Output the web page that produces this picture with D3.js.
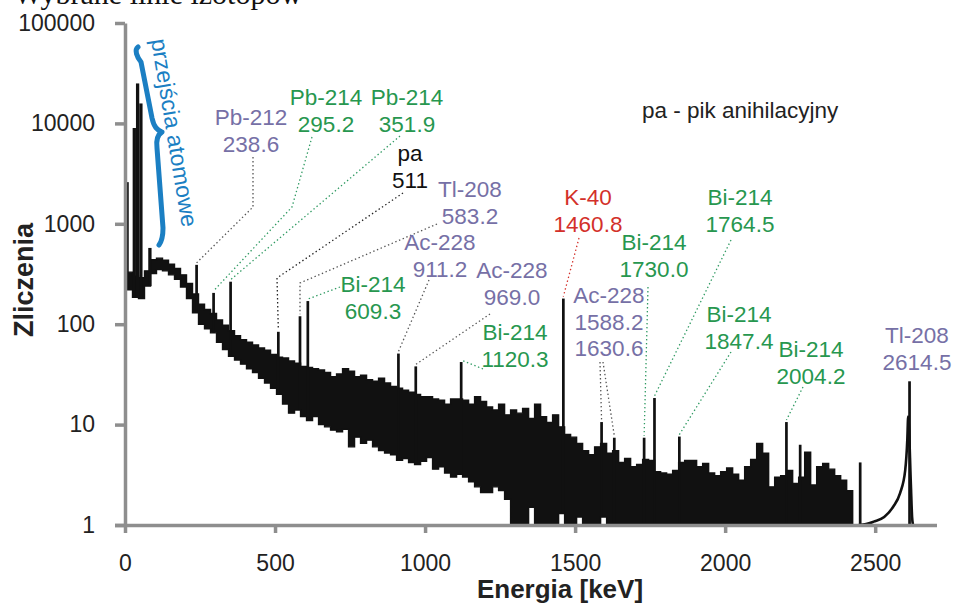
<!DOCTYPE html>
<html>
<head>
<meta charset="utf-8">
<script src="https://cdn.jsdelivr.net/npm/d3@7"></script>
<style>
  html, body { margin: 0; padding: 0; background: #fff; }
  svg { display: block; font-family: "Liberation Sans", Arial, Helvetica, sans-serif; }
</style>
</head>
<body>
<svg id="chart" width="953" height="604"></svg>
<script>
// ---- Spectrum: 20 keV bins from 5 keV, upper / lower counts within each bin ----
const binStart = 5;
const binWidth = 20;
const countsHigh = [
  330, 300, 290, 340, 440, 455, 435, 395, 360, 310,
  255, 200, 158, 140, 128, 110, 98, 86, 77, 70,
  66, 62, 58, 55, 50, 47, 46, 43, 41, 38,
  37, 36, 35, 33, 30, 32, 36, 34, 30, 31,
  28, 27, 29, 26, 24, 23, 22, 21, 20, 19,
  19, 18, 17.5, 16, 18, 18, 17.5, 16, 19, 17,
  15, 14, 16, 12.5, 14, 13, 14.5, 11.5, 16, 12,
  10.5, 12.5, 9.5, 8, 7.5, 6.5, 5.5, 5, 6, 6.5,
  5.2, 5.5, 4.2, 4.6, 3.8, 4, 4.5, 4.4, 3.4, 3.3,
  3.2, 3.5, 4.2, 4.4, 4.4, 3.8, 4.1, 3.3, 3.1, 3.4,
  3.7, 3.2, 2.8, 3.8, 4.5, 6.5, 5.2, 2.4, 3, 3.1,
  3.5, 2.6, 3, 5.3, 2.5, 3.8, 4.1, 3.6, 3.1, 2.8,
  2.2, 1
];
const countsLow = [
  220, 185, 180, 240, 320, 350, 340, 310, 280, 235,
  180, 130, 100, 90, 82, 66, 56, 48, 44, 40,
  36, 33, 29, 26, 23, 20, 16, 13, 14, 12,
  11, 12, 10, 9.5, 8.8, 8.5, 9, 6, 7.5, 6.5,
  7, 6, 5.5, 5.2, 5, 4.4, 4.6, 4.2, 4, 4.3,
  4.7, 3.6, 3.8, 3.3, 3, 3.2, 3, 2.7, 2.4, 2.1,
  2.1, 2.4, 2.2, 1.8, 1, 1, 1, 1.5, 1, 1,
  1, 1, 1.3, 1, 1, 1.2, 1, 1, 1, 1.2,
  1, 1, 1, 1, 1, 1, 1, 1, 1, 1,
  1, 1, 1, 1, 1, 1, 1, 1, 1, 1,
  1, 1, 1, 1, 1, 1, 1, 1, 1, 1,
  1, 1, 1, 1, 1, 1, 1, 1, 1, 1,
  1, 1
];

// ---- Peaks (energy in keV, counts at the top) ----
const peakEnergy = [7, 31, 42, 53, 83, 238.6, 295.2, 351.9, 511, 583.2, 609.3,
  911.2, 969.0, 1120.3, 1460.8, 1588.2, 1630.6, 1730.0, 1764.5, 1847.4,
  2204.2, 2250, 2450, 2614.5];
const peakCounts = [2600, 9000, 25000, 15800, 575, 390, 205, 265, 84, 120, 170,
  51, 38, 42, 180, 10.6, 7.4, 7.4, 18.4, 7.6,
  10.6, 6.3, 4.2, 27];

// ---- Tl-208 tail below 2614.5 keV ----
const tailEnergy = [2445, 2470, 2495, 2530, 2560, 2583, 2600, 2607, 2610, 2619, 2623, 2626];
const tailCounts = [1, 1.02, 1.08, 1.2, 1.52, 2.08, 3.5, 7, 12, 2.5, 1.2, 1];

// ---- Axis ticks ----
const xTicks = [0, 500, 1000, 1500, 2000, 2500];
const yTicks = [1, 10, 100, 1000, 10000, 100000];

// ---- Peak labels ----
const labelText = [
  ["Pb-212", "238.6"], ["Pb-214", "295.2"], ["Pb-214", "351.9"], ["pa", "511"],
  ["Tl-208", "583.2"], ["Bi-214", "609.3"], ["Ac-228", "911.2"], ["Ac-228", "969.0"],
  ["Bi-214", "1120.3"], ["K-40", "1460.8"], ["Ac-228", "1588.2", "1630.6"],
  ["Bi-214", "1730.0"], ["Bi-214", "1764.5"], ["Bi-214", "1847.4"],
  ["Bi-214", "2004.2"], ["Tl-208", "2614.5"]
];
const labelTargets = [[238.6], [295.2], [351.9], [511], [583.2], [609.3], [911.2], [969.0],
  [1120.3], [1460.8], [1588.2, 1630.6], [1730.0], [1764.5], [1847.4], [2204.2], []];
const labelSeries = ["Th", "U", "U", "pa", "Th", "U", "Th", "Th", "U", "K", "Th", "U", "U", "U", "U", "Th"];

// ---- Layout ----
const W = 953, H = 604;
const svg = d3.select("#chart");

const x = d3.scaleLinear().domain([0, 2706]).range([125, 937]);
const y = d3.scaleLog().domain([1, 100000]).range([525, 23]);

const textColor = { Th: "#7670a6", U: "#27974f", K: "#d3302a", pa: "#111" };
const leaderColor = { Th: "#555", U: "#2f9a62", K: "#d3302a", pa: "#222" };

// label placement: centre x, first baseline, leader waypoints (one list per target)
const labelLayout = [
  { cx: 251, y0: 125, legs: [[[253, 157], [253, 207]]] },
  { cx: 326, y0: 105, legs: [[[312, 137], [292, 207]]] },
  { cx: 407, y0: 105, legs: [[[400, 136]]] },
  { cx: 410, y0: 161, legs: [[[403, 193], [277, 278]]] },
  { cx: 470, y0: 197, legs: [[[437, 224], [300, 283]]] },
  { cx: 373, y0: 292, legs: [[[340, 287]]] },
  { cx: 440, y0: 250, legs: [[[429, 280]]] },
  { cx: 512, y0: 278, legs: [[[490, 314]]] },
  { cx: 515, y0: 340, legs: [[[483, 369]]] },
  { cx: 588, y0: 205, legs: [[[579, 238]]] },
  { cx: 609, y0: 303, legs: [[[600, 362]], [[603, 362]]] },
  { cx: 654, y0: 250, legs: [[[648, 287]]] },
  { cx: 740, y0: 205, legs: [[[731, 240]]] },
  { cx: 739, y0: 322, legs: [[[731, 352]]] },
  { cx: 811, y0: 357, legs: [[[803, 387]]] },
  { cx: 917, y0: 343, legs: [] }
];
const lineGap = 26.5;

// heading line above the chart (only its lower part falls inside the frame)
svg.append("text")
  .attr("x", 14).attr("y", 4)
  .style("font-family", "'Liberation Serif', 'Times New Roman', serif")
  .style("font-size", "30px")
  .attr("fill", "#111")
  .text("Wybrane linie izotopów");

// ---- Spectrum band ----
const bins = countsHigh.map((hi, i) => ({ e: binStart + i * binWidth, hi, lo: countsLow[i] }));
const last = bins[bins.length - 1];
const bandPts = bins.concat([{ e: last.e + binWidth, hi: last.hi, lo: last.lo }]);

svg.append("path")
  .datum(bandPts)
  .attr("d", d3.area()
    .x(d => x(d.e))
    .y0(d => y(d.lo))
    .y1(d => y(d.hi))
    .curve(d3.curveStepAfter))
  .attr("fill", "#111")
  .attr("stroke", "#111")
  .attr("stroke-width", 1.4)
  .attr("stroke-linejoin", "miter");

// tail toward the Tl-208 line
const tail = tailEnergy.map((e, i) => ({ e, c: tailCounts[i] }));
svg.append("path")
  .datum(tail)
  .attr("d", d3.line().x(d => x(d.e)).y(d => y(d.c)).curve(d3.curveMonotoneX))
  .attr("fill", "none")
  .attr("stroke", "#111")
  .attr("stroke-width", 2.6);

// peaks
function baseCount(e) {
  const i = Math.floor((e - binStart) / binWidth);
  return (i >= 0 && i < countsLow.length) ? countsLow[i] : 1;
}
svg.append("g").selectAll("rect")
  .data(peakEnergy.map((e, i) => ({ e, c: peakCounts[i] })))
  .join("rect")
  .attr("x", d => x(d.e - (d.e < 100 ? 5.5 : 4.5)))
  .attr("width", d => x(d.e + (d.e < 100 ? 5.5 : 4.5)) - x(d.e - (d.e < 100 ? 5.5 : 4.5)))
  .attr("y", d => y(d.c))
  .attr("height", d => y(baseCount(d.e)) - y(d.c))
  .attr("fill", "#111");

// ---- Axes ----
const axisGray = "#8e8e8e";
const gx = svg.append("g").attr("transform", "translate(0,525)")
  .call(d3.axisBottom(x).tickValues(xTicks).tickFormat(d3.format("d"))
    .tickSize(8).tickSizeOuter(0).tickPadding(22));
const gy = svg.append("g").attr("transform", "translate(125,0)")
  .call(d3.axisLeft(y).tickValues(yTicks).tickFormat(d3.format("d"))
    .tickSize(10).tickSizeOuter(0).tickPadding(20));
[gx, gy].forEach(g => {
  g.select(".domain").attr("stroke", axisGray).attr("stroke-width", 3.5);
  g.selectAll(".tick line").attr("stroke", axisGray).attr("stroke-width", 3.5);
  g.selectAll(".tick text").attr("fill", "#222")
    .style("font-size", "23px")
    .style("font-family", "'Liberation Sans', Arial, sans-serif");
});
// left end of the x axis meets the lowest y tick
gx.select(".domain").attr("d", `M${115 - 0},0.5H${x(2706)}`);

// axis titles
svg.append("text")
  .attr("x", 560).attr("y", 598)
  .attr("text-anchor", "middle")
  .style("font-size", "26px").style("font-weight", "bold")
  .attr("fill", "#222")
  .text("Energia [keV]");
svg.append("text")
  .attr("transform", "translate(33,280) rotate(-90)")
  .attr("text-anchor", "middle")
  .style("font-size", "27px").style("font-weight", "bold")
  .attr("fill", "#222")
  .text("Zliczenia");

// ---- Atomic transitions bracket ----
const blue = "#1b7fc3";
svg.append("path")
  .attr("d", "M138,47 C134,50 137,57 141,62 L152,118 C154,127 157,130 162,132 C157,135 156,140 157,148 L163,228 C163,236 162,241 159,245")
  .attr("fill", "none")
  .attr("stroke", blue)
  .attr("stroke-width", 5)
  .attr("stroke-linecap", "round")
  .attr("stroke-linejoin", "round");
svg.append("text")
  .attr("transform", "translate(151,40) rotate(80.6)")
  .style("font-size", "23px")
  .attr("fill", blue)
  .text("przejścia atomowe");

// ---- Note ----
svg.append("text")
  .attr("x", 642).attr("y", 118)
  .style("font-size", "22.5px")
  .attr("fill", "#222")
  .text("pa - pik anihilacyjny");

// ---- Peak labels and dotted leaders ----
const peakCountAt = e => peakCounts[peakEnergy.indexOf(e)];
const lineGen = d3.line();
labelText.forEach((lines, i) => {
  const lay = labelLayout[i];
  const kind = labelSeries[i];
  labelTargets[i].forEach((e, k) => {
    const pts = lay.legs[k].concat([[x(e), y(peakCountAt(e)) - 2]]);
    svg.append("path")
      .attr("d", lineGen(pts))
      .attr("fill", "none")
      .attr("stroke", leaderColor[kind])
      .attr("stroke-width", 1.3)
      .attr("stroke-dasharray", "1.4 2.6");
  });
  const t = svg.append("text")
    .attr("text-anchor", "middle")
    .style("font-size", "22.5px")
    .attr("fill", textColor[kind]);
  lines.forEach((s, j) => {
    t.append("tspan").attr("x", lay.cx).attr("y", lay.y0 + j * lineGap).text(s);
  });
});
</script>
</body>
</html>
